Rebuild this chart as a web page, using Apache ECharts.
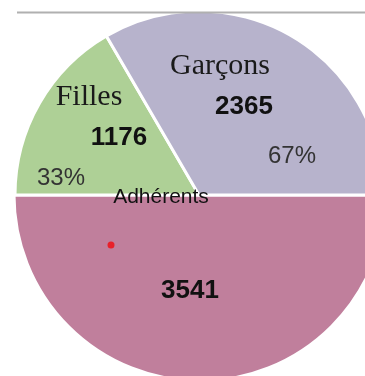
<!DOCTYPE html>
<html>
<head>
<meta charset="utf-8">
<script src="https://cdn.jsdelivr.net/npm/echarts@6/dist/echarts.min.js"></script>
<style>
html,body{margin:0;padding:0;background:#fff;}
#chart{width:365px;height:376px;}
</style>
</head>
<body>
<div id="chart"></div>
<script>
// Data
const topCategories = ['Filles', 'Garçons'];
const topValues = [1176, 2365];
const totalCategory = 'Adhérents';
const totalValue = 3541;
const colors = ['#aed096', '#b7b3cc', '#c07f9c'];

const total = topValues.reduce((a, b) => a + b, 0);
const pct = topValues.map(v => Math.round(v / total * 100) + '%');

const chart = echarts.init(document.getElementById('chart'), null, {renderer: 'canvas'});

const serif = '"Liberation Serif", "DejaVu Serif", serif';
const sans = '"Liberation Sans", Arial, sans-serif';

function txt(x, y, text, font, size, weight, color) {
  return {
    type: 'text', x: x, y: y, z: 100,
    style: {
      text: text, fontFamily: font, fontSize: size, fontWeight: weight,
      fill: color, align: 'center', verticalAlign: 'middle'
    }
  };
}

chart.setOption({
  backgroundColor: '#fff',
  animation: false,
  series: [
    {
      type: 'pie',
      silent: true,
      center: [200, 195],
      radius: [0, 186],
      startAngle: 360,
      endAngle: 180,
      clockwise: true,
      label: {show: false},
      labelLine: {show: false},
      itemStyle: {borderColor: '#fff', borderWidth: 3},
      data: [{name: totalCategory, value: totalValue, itemStyle: {color: colors[2]}}]
    },
    {
      type: 'pie',
      silent: true,
      center: [199, 195],
      radius: [0, 184],
      startAngle: 180,
      endAngle: 0,
      clockwise: true,
      label: {show: false},
      labelLine: {show: false},
      itemStyle: {borderColor: '#fff', borderWidth: 3},
      data: topCategories.map((c, i) => ({name: c, value: topValues[i], itemStyle: {color: colors[i]}}))
    }
  ],
  graphic: [
    {type: 'rect', x: 0, y: 0, z: 90, shape: {width: 365, height: 11}, style: {fill: '#fff'}},
    {type: 'line', z: 95, shape: {x1: 17, y1: 12.5, x2: 365, y2: 12.5}, style: {stroke: '#b0b0b0', lineWidth: 2}},
    txt(89, 97, topCategories[0], serif, 30, 'normal', '#1a1a1a'),
    txt(119, 138, String(topValues[0]), sans, 26, 'bold', '#111'),
    txt(61, 178, pct[0], sans, 24, 'normal', '#333'),
    txt(220, 66, topCategories[1], serif, 30, 'normal', '#1a1a1a'),
    txt(244, 107, String(topValues[1]), sans, 26, 'bold', '#111'),
    txt(292, 156, pct[1], sans, 24, 'normal', '#333'),
    txt(161, 197, totalCategory, sans, 21, 'normal', '#111'),
    txt(190, 291, String(totalValue), sans, 26, 'bold', '#111'),
    {type: 'circle', z: 100, shape: {cx: 111, cy: 245, r: 3.5}, style: {fill: '#e8202a'}}
  ]
});
</script>
</body>
</html>
